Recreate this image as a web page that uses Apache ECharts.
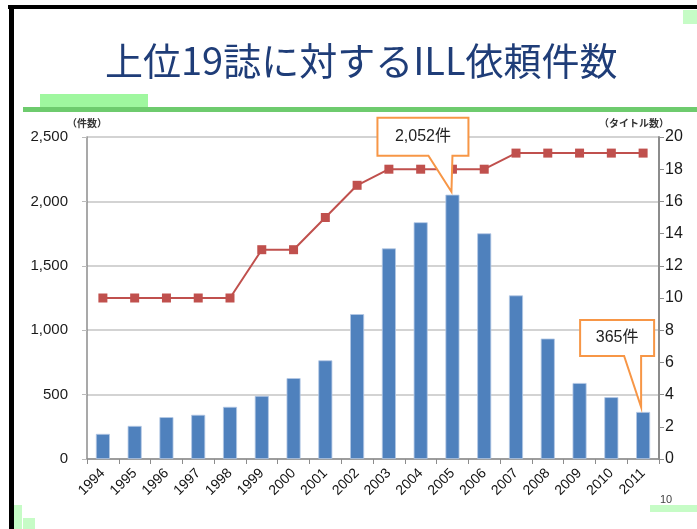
<!DOCTYPE html>
<html>
<head>
<meta charset="utf-8">
<script src="https://cdn.jsdelivr.net/npm/echarts@6/dist/echarts.min.js"></script>
<style>
html, body { margin: 0; padding: 0; background: #fff; }
#container { width: 697px; height: 529px; }
</style>
</head>
<body>
<div id="container"></div>
<script>
// データ
var years = ['1994', '1995', '1996', '1997', '1998', '1999', '2000', '2001', '2002',
             '2003', '2004', '2005', '2006', '2007', '2008', '2009', '2010', '2011'];
var requests = [195, 257, 325, 343, 405, 490, 628, 766, 1125, 1635, 1838, 2052, 1752, 1270, 935, 590, 480, 365];
var titles = [10, 10, 10, 10, 10, 13, 13, 15, 17, 18, 18, 18, 18, 19, 19, 19, 19, 19];
var calloutYears = ['2005', '2011'];
var calloutTexts = ['2,052件', '365件'];

// 吹き出しの形 (棒の上端からの相対位置)
var calloutShapes = [
    { box: [-75, -77, 91, 38], tail: [-24, 0], tip: [-1, -3] },
    { box: [-63, -92, 74, 36], tail: [-19, -2], tip: [-2, -5] }
];

var font = '"Liberation Sans", "Noto Sans CJK JP", sans-serif';
var dom = document.getElementById('container');
var myChart = echarts.init(dom);

var option = {
    animation: false,
    title: {
        text: '上位19誌に対するILL依頼件数',
        left: 100,
        top: 37,
        textStyle: {
            fontFamily: '"Noto Sans CJK JP", sans-serif',
            fontSize: 38,
            fontWeight: 'normal',
            color: '#1f3d78'
        }
    },
    grid: { left: 87, right: 38, top: 137, bottom: 70 },
    xAxis: {
        type: 'category',
        data: years,
        axisLine: { lineStyle: { color: '#8c8c8c', width: 1.5 } },
        axisTick: { show: true, length: 5, lineStyle: { color: '#8c8c8c' } },
        axisLabel: { rotate: 45, fontSize: 14, color: '#111', fontFamily: font, margin: 12 }
    },
    yAxis: [{
        type: 'value',
        min: 0, max: 2500, interval: 500,
        name: '（件数）',
        nameLocation: 'end',
        nameGap: 9,
        nameTextStyle: { fontSize: 10, color: '#333', fontWeight: 'bold', fontFamily: '"Noto Sans CJK JP", sans-serif' },
        axisLine: { show: true, lineStyle: { color: '#8c8c8c', width: 1.5 } },
        axisTick: { show: true, length: 5, lineStyle: { color: '#bbb' } },
        splitLine: { lineStyle: { color: '#c4c4c4', width: 1.5 } },
        axisLabel: {
            fontSize: 15, color: '#1a1a1a', fontFamily: font, margin: 19,
            formatter: function (v) { return v.toLocaleString('en-US'); }
        }
    }, {
        type: 'value',
        min: 0, max: 20, interval: 2,
        name: '（タイトル数）',
        nameLocation: 'end',
        nameGap: 9,
        nameTextStyle: { fontSize: 10, color: '#333', fontWeight: 'bold', padding: [0, 50, 0, 0], fontFamily: '"Noto Sans CJK JP", sans-serif' },
        axisLine: { show: true, lineStyle: { color: '#8c8c8c', width: 2 } },
        axisTick: { show: true, length: 5, lineStyle: { color: '#8c8c8c' } },
        splitLine: { show: false },
        axisLabel: { fontSize: 16, color: '#1a1a1a', fontFamily: font, margin: 6 }
    }],
    series: [{
        type: 'bar',
        name: '依頼件数',
        yAxisIndex: 0,
        data: requests,
        barWidth: 14,
        itemStyle: { color: '#4f81bd', borderColor: '#b4c8e4', borderWidth: 0.8 },
        z: 2
    }, {
        type: 'line',
        name: 'タイトル数',
        yAxisIndex: 1,
        data: titles,
        symbol: 'rect',
        symbolSize: 9,
        lineStyle: { color: '#c0504d', width: 2 },
        itemStyle: { color: '#c0504d' },
        z: 3
    }]
};
myChart.setOption(option, true);

// 飾りと吹き出し
var deco = [
    { type: 'rect', shape: { x: 0, y: 0, width: 697, height: 529 }, style: { fill: '#fff' }, z: -10, silent: true },
    { type: 'rect', shape: { x: 8, y: 5, width: 689, height: 4 }, style: { fill: '#000' }, z: 10 },
    { type: 'rect', shape: { x: 9, y: 5, width: 5, height: 524 }, style: { fill: '#000' }, z: 10 },
    { type: 'rect', shape: { x: 683, y: 10, width: 14, height: 14 }, style: { fill: '#c6fcc6' }, z: 10 },
    { type: 'rect', shape: { x: 40, y: 94, width: 108, height: 13 }, style: { fill: '#9ff79f' }, z: 10 },
    { type: 'rect', shape: { x: 23, y: 107, width: 674, height: 5 }, style: { fill: '#6ecb6e' }, z: 10 },
    { type: 'rect', shape: { x: 14, y: 505, width: 8, height: 24 }, style: { fill: '#c6fcc6' }, z: 10 },
    { type: 'rect', shape: { x: 23, y: 518, width: 12, height: 11 }, style: { fill: '#c6fcc6' }, z: 10 },
    { type: 'rect', shape: { x: 650, y: 505, width: 47, height: 7 }, style: { fill: '#c6fcc6' }, z: 10 },
    { type: 'text', x: 660, y: 494, style: { text: '10', fontSize: 11, fill: '#444', font: '11px "Liberation Sans", sans-serif' }, z: 11 }
];

calloutYears.forEach(function (yr, i) {
    var idx = years.indexOf(yr);
    var p = myChart.convertToPixel({ seriesIndex: 0 }, [idx, requests[idx]]);
    var s = calloutShapes[i];
    var L = p[0] + s.box[0], T = p[1] + s.box[1];
    var R = L + s.box[2], B = T + s.box[3];
    deco.push({
        type: 'polygon',
        shape: { points: [
            [L, T], [R, T], [R, B],
            [p[0] + s.tail[1], B],
            [p[0] + s.tip[0], p[1] + s.tip[1]],
            [p[0] + s.tail[0], B],
            [L, B]
        ] },
        style: { fill: '#fff', stroke: '#f79646', lineWidth: 2 },
        z: 20
    });
    deco.push({
        type: 'text',
        x: (L + R) / 2, y: (T + B) / 2,
        style: {
            text: calloutTexts[i],
            fill: '#222',
            font: '16px "Liberation Sans", "Noto Sans CJK JP", sans-serif',
            textAlign: 'center',
            textVerticalAlign: 'middle'
        },
        z: 21
    });
});

myChart.setOption({ graphic: deco });
</script>
</body>
</html>
